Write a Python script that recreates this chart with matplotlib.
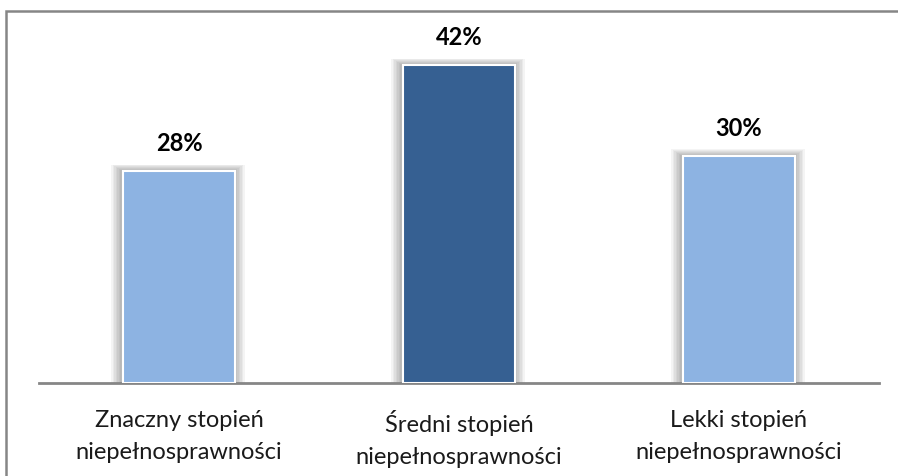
import numpy as np
import matplotlib.pyplot as plt
from matplotlib.patches import Rectangle

categories = ["Znaczny stopień\nniepełnosprawności",
              "Średni stopień\nniepełnosprawności",
              "Lekki stopień\nniepełnosprawności"]
values = [28, 42, 30]
colors = ["#8DB3E2", "#366092", "#8DB3E2"]

plt.rcParams['font.family'] = ['Lato', 'DejaVu Sans']

fig = plt.figure(figsize=(8.98, 4.77), dpi=100)
ax = fig.add_axes([39 / 898, 93 / 477, 840 / 898, 356 / 477])

x = np.arange(len(categories))
width = 0.4

# soft shadow behind the bars
for k in range(1, 8):
    ax.bar(x - 0.004, np.array(values) + 0.12 * k, width=width + 0.011 * k,
           color="black", alpha=0.045, linewidth=0, zorder=1)

ax.bar(x, values, width=width, color=colors, edgecolor="white",
       linewidth=1.5, zorder=3)

for xi, v in zip(x, values):
    ax.text(xi, v + 2.2, f"{v}%", ha="center", va="bottom",
            fontsize=17, fontweight="bold", color="black", zorder=4)

ax.set_xlim(-0.5, 2.5)
ax.set_ylim(0, 47)
ax.set_yticks([])
ax.set_xticks(x)
ax.set_xticklabels(categories, fontsize=17, color="#1a1a1a", linespacing=1.65)
ax.tick_params(axis="x", length=0, pad=19)
for s in ["top", "left", "right"]:
    ax.spines[s].set_visible(False)
ax.spines["bottom"].set_color("#868686")
ax.spines["bottom"].set_linewidth(2)

# outer frame (cut off at right and bottom)
frame = Rectangle((6 / 898, -0.1), 1.0, (477 - 12) / 477 + 0.1,
                  transform=fig.transFigure, fill=False,
                  edgecolor="#868686", linewidth=1.8)
fig.patches.append(frame)

fig.savefig("out.png", dpi=100)
